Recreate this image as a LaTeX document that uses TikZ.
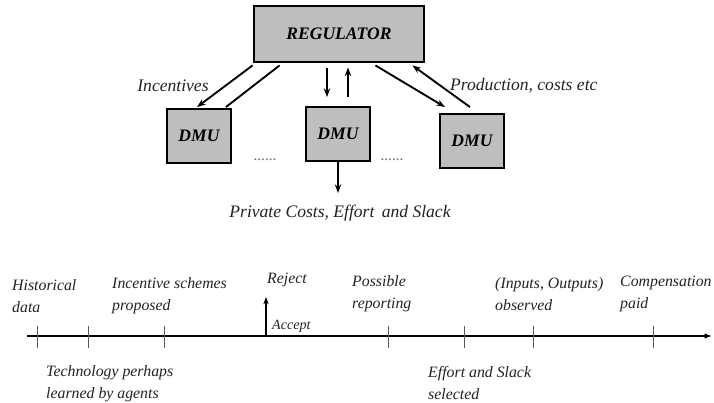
\documentclass[tikz,border=0pt]{standalone}
\usepackage{fontspec}
\setmainfont{Liberation Serif}
\usetikzlibrary{arrows.meta,positioning,calc}
\definecolor{boxgray}{HTML}{BEBEBE}
\definecolor{inkgray}{HTML}{222222}
\tikzset{
  % Regulator and agent boxes
  regbox/.style={draw=black,line width=2.4pt,fill=boxgray,minimum width=5.1cm,
                 minimum height=1.68cm,font=\fontsize{15}{17}\selectfont\bfseries\itshape},
  dmubox/.style={draw=black,line width=1.6pt,fill=boxgray,minimum width=1.92cm,
                 minimum height=1.62cm,font=\fontsize{15}{17}\selectfont\bfseries\itshape},
  % Connectors & labels
  fl/.style={-{Stealth[length=2.6mm,width=1.9mm]},black,line width=1.6pt},
  pl/.style={black,line width=1.6pt},
  toplb/.style={font=\fontsize{15}{18}\selectfont\itshape,text=inkgray,inner sep=0pt},
  dotlb/.style={font=\fontsize{13}{14}\selectfont,text=black!60,inner sep=0pt,anchor=base},
  % Timeline
  tlb/.style={font=\fontsize{13.5}{18.5}\selectfont\itshape,text=inkgray,align=left,
              inner sep=0pt,anchor=west},
  tick/.style={draw=black!65,line width=0.7pt},
  axis/.style={-{Latex[length=2.2mm,width=1.6mm]},black,line width=1pt}
}
\begin{document}
\begin{tikzpicture}[x=0.03cm,y=-0.03cm]
  \useasboundingbox (0,0) rectangle (714,403);

  % Regulator and DMUs
  \node[regbox] (reg)  at (339,34)  {REGULATOR};
  \node[dmubox] (dmuL) at (199,136) {DMU};
  \node[dmubox] (dmuM) at (338,134) {DMU};
  \node[dmubox] (dmuR) at (472,141) {DMU};

  \node[dotlb] (dotsL) at (265,161) {......};
  \node[dotlb] (dotsR) at (392,161) {......};

  % Flows between regulator and DMUs
  \draw[fl] ($(reg.south west)+(0,2)$) -- ($(dmuL.north)+(-2,-1)$);
  \draw[pl] ($(dmuL.north east)+(-6,-1)$) -- ($(reg.south west)+(27,2)$);
  \draw[fl] ($(reg.south)+(-12,5)$) -- ($(dmuM.north)+(-11,-9)$);
  \draw[fl] ($(dmuM.north)+(10,-9)$) -- ($(reg.south)+(9,4)$);
  \draw[fl] ($(reg.south east)+(-50,2)$) -- ($(dmuR.north)+(-27,-6)$);
  \draw[fl] ($(dmuR.north)+(-2,-6)$) -- ($(reg.south east)+(-13,2)$);

  \node[toplb] (lbinc)  at (173,86) {Incentives};
  \node[toplb,anchor=west] (lbprod) at (450,86) {Production, costs etc};

  % Private information
  \coordinate (priv) at (338,193);
  \draw[fl] (dmuM.south) -- (priv);
  \node[toplb] (lbpriv) at (340,213) {Private Costs, Effort\, and Slack};

  % Timeline
  \coordinate (tstart) at (27,336);
  \coordinate (tend)   at (712,336);
  \draw[axis] (tstart) -- (tend);
  \foreach \tx in {37,88,164,388,464,533,653}
    \draw[tick] (\tx,326) -- (\tx,348);

  \coordinate (acc) at (266,336);
  \coordinate (rej) at (266,297);
  \draw[-{Stealth[length=2.2mm,width=1.6mm]},line width=1.1pt] (acc) -- (rej);

  \node[tlb] (thist)  at (12,296)  {Historical\\data};
  \node[tlb] (tinc)   at (112,296) {Incentive schemes\\proposed};
  \node[tlb] (trej)   at (267,280) {Reject};
  \node[tlb,font=\fontsize{12}{13}\selectfont\itshape] (tacc) at (272,326) {Accept};
  \node[tlb] (trep)   at (352,294) {Possible\\reporting};
  \node[tlb] (tobs)   at (495,294) {(Inputs, Outputs)\\observed};
  \node[tlb] (tcomp)  at (620,294) {Compensation\\paid};
  \node[tlb] (ttech)  at (46,384)  {Technology perhaps\\learned by agents};
  \node[tlb] (teff)   at (428,383) {Effort and Slack\\selected};
\end{tikzpicture}
\end{document}
